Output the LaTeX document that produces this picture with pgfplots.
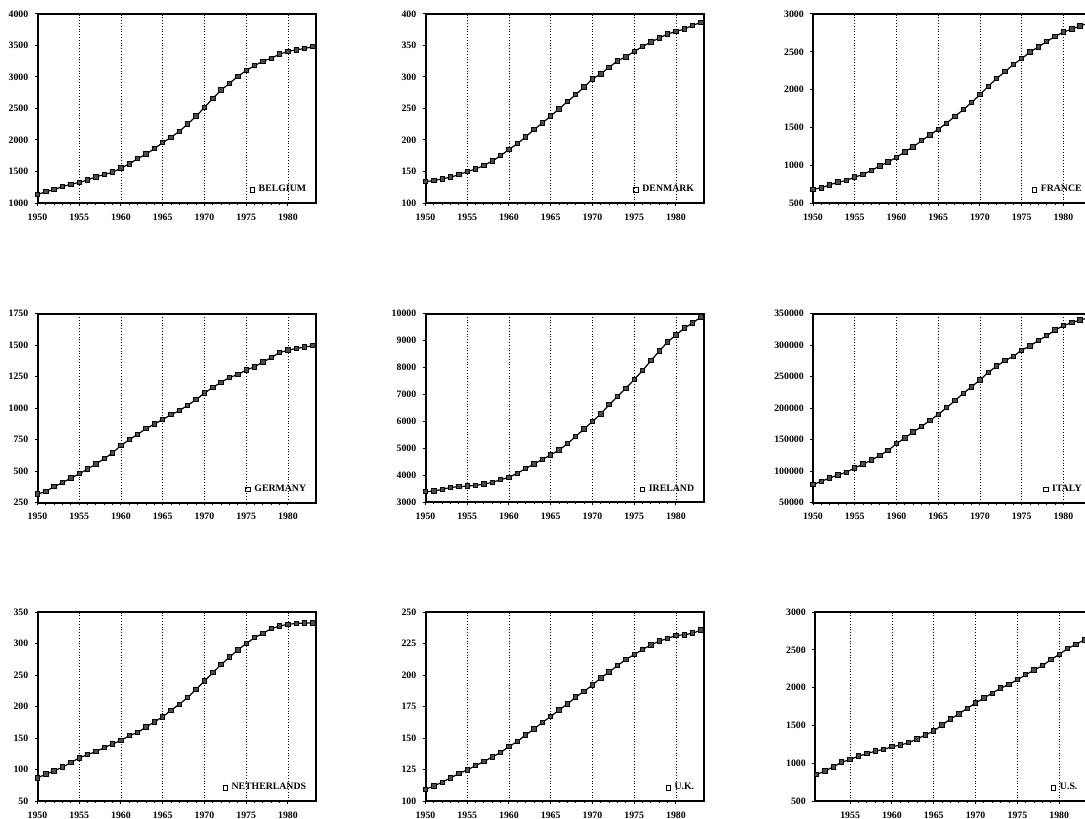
\documentclass[border=0pt]{standalone}
\usepackage{fontspec}
\setmainfont{Liberation Serif}
\usepackage{pgfplots}
\pgfplotsset{compat=1.18}
\pgfplotsset{
  pl/.style={black, line width=0.6pt, mark=square*, mark size=1.1pt, mark options={solid, line width=0.5pt, draw=black, fill=black!70}},
  panel/.style={
    scale only axis, width=139pt, height=94.5pt,
    anchor=north west,
    xmin=1950, xmax=1983.3,
    xtick={1950,1955,...,1980},
    minor x tick num=4,
    tick pos=left,
    tick align=outside,
    major tick length=1.4pt, minor tick length=1pt,
    xmajorgrids, grid style={densely dotted, black, line width=0.45pt},
    axis line style={line width=1pt},
    every tick/.style={black, line width=0.5pt},
    ticklabel style={font=\bfseries\fontsize{4.9}{5}\selectfont},
    xticklabel style={yshift=-0.5pt},
    yticklabel style={xshift=0.3pt},
    scaled y ticks=false,
    /pgf/number format/fixed,
    /pgf/number format/precision=0,
    /pgf/number format/1000 sep={},
    /pgf/number format/assume math mode=true,
    legend style={at={(1,0)}, anchor=south east, xshift=-2.5pt, yshift=2pt,
      draw=none, fill=none, inner sep=0pt,
      font=\bfseries\fontsize{4.9}{5}\selectfont,
      /tikz/every even column/.append style={column sep=1pt}},
    legend image code/.code={\draw[black, mark=square, mark size=1.1pt, line width=0.5pt] plot coordinates {(0pt,0pt)};},
  }
}
\begin{document}
\begin{tikzpicture}
\useasboundingbox (0pt,-409pt) rectangle (542.5pt,0pt);
\clip (0pt,-409pt) rectangle (542.5pt,0pt);

% ---------- Row 1 ----------
\begin{axis}[panel, at={(18.75pt,-7pt)}, ymin=1000, ymax=4000, ytick={1000,1500,...,4000}]
\addplot[pl] coordinates {(1950,1133)(1951,1181)(1952,1213)(1953,1261)(1954,1298)(1955,1325)(1956,1367)(1957,1415)(1958,1452)(1959,1489)(1960,1553)(1961,1622)(1962,1702)(1963,1777)(1964,1862)(1965,1958)(1966,2043)(1967,2138)(1968,2255)(1969,2378)(1970,2516)(1971,2660)(1972,2793)(1973,2899)(1974,3011)(1975,3101)(1976,3181)(1977,3250)(1978,3298)(1979,3362)(1980,3405)(1981,3431)(1982,3452)(1983,3484)};
\addlegendentry{BELGIUM}
\end{axis}

\begin{axis}[panel, at={(212.75pt,-7pt)}, ymin=100, ymax=400, ytick={100,150,...,400}]
\addplot[pl] coordinates {(1950,134)(1951,135.6)(1952,138.3)(1953,141)(1954,145)(1955,150)(1956,153.7)(1957,160)(1958,166.5)(1959,175)(1960,185)(1961,194)(1962,205)(1963,216.5)(1964,227)(1965,238)(1966,249.5)(1967,261)(1968,272)(1969,284)(1970,297)(1971,305)(1972,315.5)(1973,325.6)(1974,332)(1975,340.5)(1976,348.4)(1977,355.4)(1978,362)(1979,368)(1980,372.4)(1981,376)(1982,382)(1983,386.7)};
\addlegendentry{DENMARK}
\end{axis}

\begin{axis}[panel, at={(406.5pt,-7pt)}, ymin=500, ymax=3000, ytick={500,1000,...,3000}]
\addplot[pl] coordinates {(1950,682)(1951,700)(1952,740)(1953,776)(1954,798)(1955,843)(1956,878)(1957,932)(1958,990)(1959,1043)(1960,1105)(1961,1176)(1962,1243)(1963,1323)(1964,1399)(1965,1475)(1966,1555)(1967,1648)(1968,1733)(1969,1831)(1970,1933)(1971,2044)(1972,2147)(1973,2236)(1974,2333)(1975,2409)(1976,2498)(1977,2565)(1978,2636)(1979,2703)(1980,2761)(1981,2801)(1982,2841)(1983,2881)};
\addlegendentry{FRANCE}
\end{axis}

% ---------- Row 2 ----------
\begin{axis}[panel, at={(18.75pt,-156.75pt)}, ymin=250, ymax=1750, ytick={250,500,...,1750}]
\addplot[pl] coordinates {(1950,317)(1951,338)(1952,376)(1953,408)(1954,443)(1955,478)(1956,515)(1957,556)(1958,598)(1959,644)(1960,703)(1961,748)(1962,791)(1963,837)(1964,872)(1965,909)(1966,947)(1967,979)(1968,1022)(1969,1067)(1970,1118)(1971,1164)(1972,1204)(1973,1242)(1974,1266)(1975,1301)(1976,1327)(1977,1365)(1978,1400)(1979,1440)(1980,1459)(1981,1472)(1982,1483)(1983,1496)};
\addlegendentry{GERMANY}
\end{axis}

\begin{axis}[panel, at={(212.75pt,-156.75pt)}, ymin=3000, ymax=10000, ytick={3000,4000,...,10000}]
\addplot[pl] coordinates {(1950,3398)(1951,3423)(1952,3485)(1953,3560)(1954,3585)(1955,3610)(1956,3634)(1957,3684)(1958,3746)(1959,3846)(1960,3933)(1961,4082)(1962,4256)(1963,4430)(1964,4592)(1965,4766)(1966,4941)(1967,5177)(1968,5451)(1969,5724)(1970,5998)(1971,6284)(1972,6620)(1973,6931)(1974,7230)(1975,7553)(1976,7889)(1977,8250)(1978,8610)(1979,8946)(1980,9207)(1981,9456)(1982,9655)(1983,9867)};
\addlegendentry{IRELAND}
\end{axis}

\begin{axis}[panel, at={(406.5pt,-156.75pt)}, ymin=50000, ymax=350000, ytick={50000,100000,...,350000}]
\addplot[pl] coordinates {(1950,78281)(1951,83617)(1952,88953)(1953,93755)(1954,98024)(1955,104961)(1956,110830)(1957,117234)(1958,124704)(1959,132708)(1960,143380)(1961,152451)(1962,162056)(1963,170594)(1964,180198)(1965,189803)(1966,200475)(1967,211681)(1968,223420)(1969,233558)(1970,244764)(1971,256503)(1972,266642)(1973,275179)(1974,282116)(1975,291721)(1976,298658)(1977,307195)(1978,314666)(1979,323737)(1980,330674)(1981,335476)(1982,339745)(1983,343000)};
\addlegendentry{ITALY}
\end{axis}

% ---------- Row 3 ----------
\begin{axis}[panel, at={(18.75pt,-306pt)}, ymin=50, ymax=350, ytick={50,100,...,350}]
\addplot[pl] coordinates {(1950,86.8)(1951,92.6)(1952,97.9)(1953,103.7)(1954,111)(1955,118.4)(1956,123.7)(1957,128.4)(1958,134.7)(1959,140.5)(1960,146.3)(1961,153.6)(1962,158.9)(1963,167.3)(1964,175.7)(1965,183.6)(1966,194.1)(1967,203.6)(1968,214.6)(1969,227.3)(1970,240.4)(1971,253.6)(1972,266.7)(1973,278.3)(1974,289.9)(1975,299.9)(1976,309.3)(1977,316.2)(1978,323.5)(1979,327.7)(1980,330.4)(1981,331.9)(1982,332.5)(1983,332.5)};
\addlegendentry{NETHERLANDS}
\end{axis}

\begin{axis}[panel, at={(212.75pt,-306pt)}, ymin=100, ymax=250, ytick={100,125,...,250}]
\addplot[pl] coordinates {(1950,109.3)(1951,111.9)(1952,114.9)(1953,118.3)(1954,121.8)(1955,124.7)(1956,128.1)(1957,131.3)(1958,135)(1959,138.5)(1960,143.3)(1961,147.2)(1962,152.5)(1963,157.1)(1964,162.4)(1965,167.1)(1966,172.2)(1967,177)(1968,182.5)(1969,187)(1970,192.1)(1971,197.7)(1972,202.4)(1973,207.5)(1974,212.3)(1975,216.2)(1976,220.2)(1977,223.9)(1978,226.9)(1979,229)(1980,231.4)(1981,231.9)(1982,233.2)(1983,235.6)};
\addlegendentry{U.K.}
\end{axis}

\begin{axis}[panel, at={(407.5pt,-306pt)}, width=135.9pt, xmin=1950.8, xtick={1955,1960,...,1980}, ymin=500, ymax=3000, ytick={500,1000,...,3000}]
\addplot[pl] coordinates {(1951,850)(1952,899)(1953,952)(1954,1014)(1955,1049)(1956,1094)(1957,1125)(1958,1160)(1959,1182)(1960,1218)(1961,1240)(1962,1271)(1963,1320)(1964,1373)(1965,1426)(1966,1506)(1967,1585)(1968,1652)(1969,1727)(1970,1794)(1971,1864)(1972,1926)(1973,1993)(1974,2042)(1975,2104)(1976,2170)(1977,2232)(1978,2290)(1979,2369)(1980,2440)(1981,2516)(1982,2573)(1983,2630)};
\addlegendentry{U.S.}
\end{axis}
\end{tikzpicture}
\end{document}
